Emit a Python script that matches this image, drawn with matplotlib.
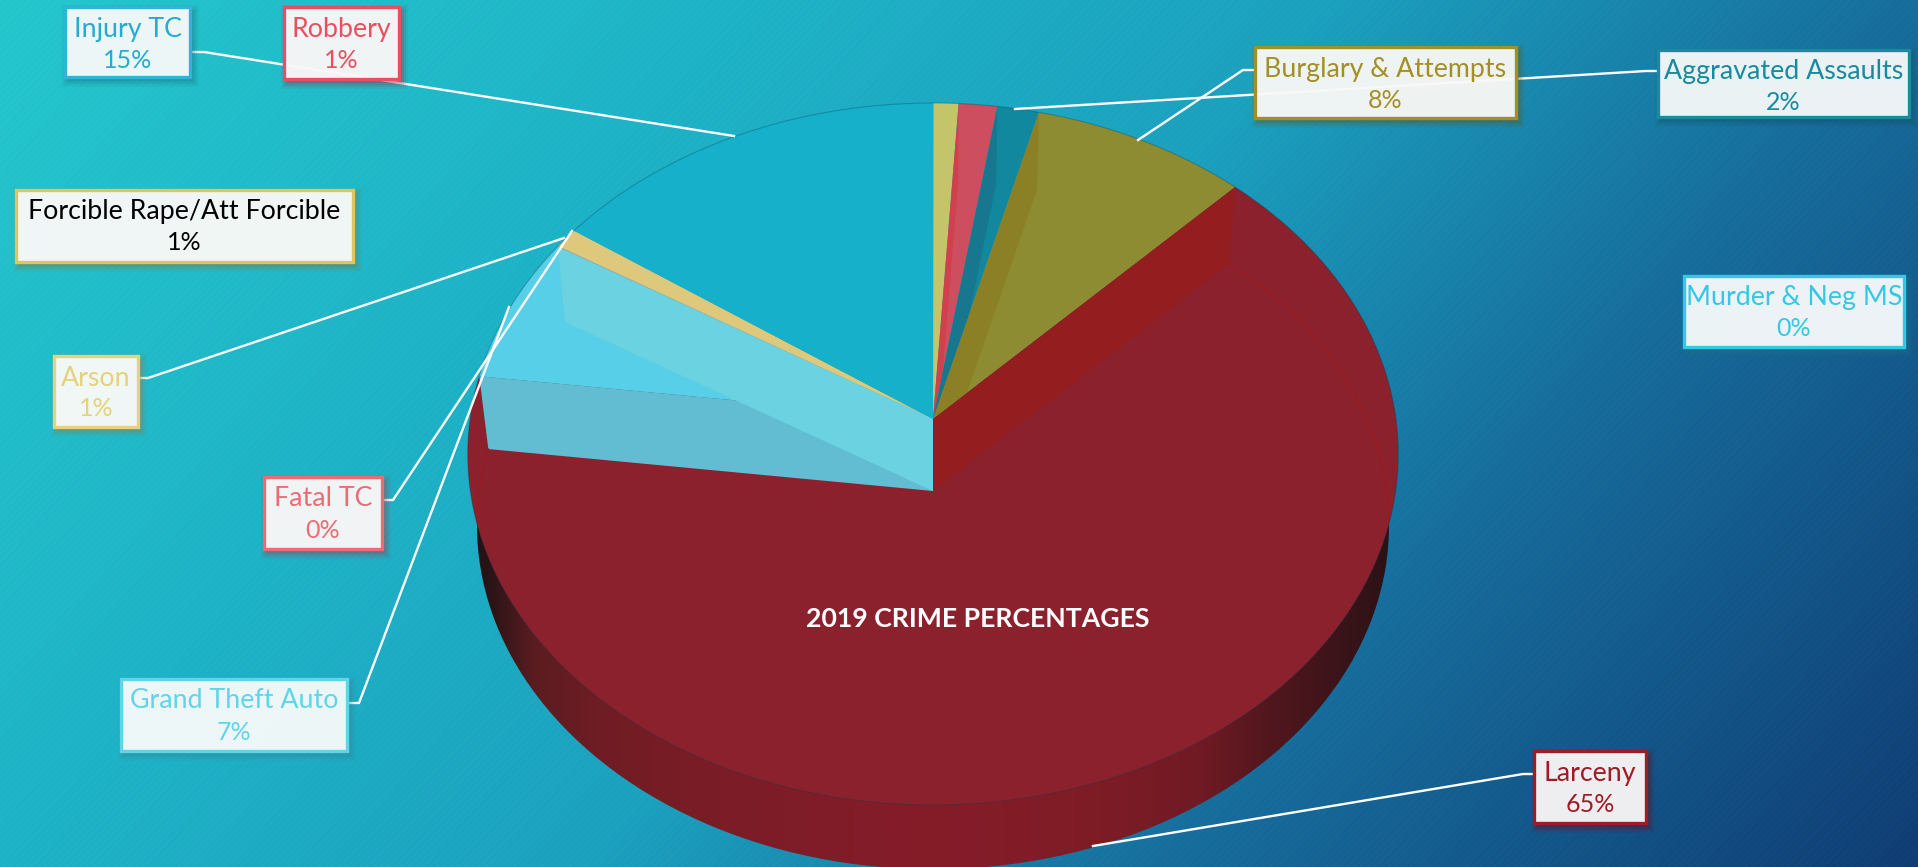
import numpy as np
import matplotlib
matplotlib.use('Agg')
import matplotlib.pyplot as plt
from matplotlib.colors import to_rgb
from matplotlib.patches import Rectangle, Polygon
from matplotlib.transforms import Transform

# Share of each crime (clockwise from 12 o'clock)
categories = ['Murder & Neg MS', 'Forcible Rape/Att Forcible', 'Robbery', 'Aggravated Assaults',
              'Burglary & Attempts', 'Larceny', 'Grand Theft Auto', 'Fatal TC', 'Arson', 'Injury TC']
shares = [0.03, 0.94, 1.47, 1.60, 8.28, 64.67, 6.75, 0.03, 0.94, 15.29]

face_colors = ['#33C8E0', '#C4C46A', '#CC4E5F', '#12889F', '#8E8C32',
               '#8B212C', '#58CFE8', '#EE6B75', '#DDC87C', '#17B0CA']
wall_colors = ['#33C8E0', '#C9BE5C', '#D0404E', '#17778F', '#8C8026',
               '#931D1F', '#62BCD2', '#EE6B75', '#D0D080', '#15A8C2']
text_colors = ['#35C8E6', '#000000', '#E94F5F', '#1A8A9E', '#A38F24',
               '#A01B25', '#60D5EA', '#EE6B75', '#E6D27C', '#23ABD0']
border_colors = ['#35C8E6', '#DEC65C', '#E94F5F', '#1A8A9E', '#A38F24',
                 '#A01B25', '#60D5EA', '#EE6B75', '#E6D27C', '#2FB5D8']

# label boxes in pixels: x0, y0, x1, y1
boxes = [(1684, 276, 1904, 347), (16, 190, 353, 262), (284, 7, 399, 79), (1658, 50, 1909, 117),
         (1255, 47, 1516, 118), (1534, 751, 1646, 823), (121, 679, 347, 751), (264, 477, 382, 549),
         (54, 356, 138, 427), (65, 7, 190, 77)]

# leader lines in pixels, None where the label has no line
leaders = [None, None, None,
           [(1656, 71), (1646, 71), (1015, 109)],
           [(1254, 70), (1243, 70), (1138, 140)],
           [(1534, 774), (1523, 774), (1093, 846)],
           [(347, 703), (359, 703), (509, 307)],
           [(382, 500), (393, 500), (572, 231)],
           [(138, 378), (148, 378), (564, 238)],
           [(191, 52), (204, 52), (734, 136)]]

W, H = 1918, 867


class DiscView(Transform):
    # unit disc seen from above, near side drawn larger
    input_dims = 2
    output_dims = 2

    def __init__(self, cy, scale):
        super().__init__()
        self.cy = cy
        self.scale = scale

    def transform_non_affine(self, values):
        values = np.asarray(values, dtype=float)
        w = 1 + 0.0997 * values[:, 1]
        x = 933 + self.scale * 463 * values[:, 0] / w
        y = self.cy - self.scale * 347.5 * values[:, 1] / w
        return np.column_stack([x, y])


top_view = DiscView(419, 1.0)
base_view = DiscView(491, 0.98)

fig = plt.figure(figsize=(W / 100, H / 100), dpi=100)
ax = fig.add_axes([0, 0, 1, 1])

# background gradient with faint diagonal stripes
yy, xx = np.mgrid[0:H, 0:W]
t = xx / W * 0.72 + yy / H * 0.28
stops = [0, 0.28, 0.5, 0.72, 1]
r = np.interp(t, stops, [36, 30, 27, 22, 15])
g = np.interp(t, stops, [198, 178, 160, 108, 60])
b = np.interp(t, stops, [204, 198, 190, 155, 115])
stripes = (((xx + yy) % 7) < 3) * 2.0
bg = np.clip(np.dstack([r + stripes, g + stripes, b + stripes]) / 255, 0, 1)
ax.imshow(bg, extent=(0, W, H, 0), zorder=0, aspect='auto')

# top faces and base faces come from the same shares
wedges, _ = ax.pie(shares, colors=face_colors, startangle=90, counterclock=False, radius=1,
                   wedgeprops=dict(linewidth=0))
for w in wedges:
    w.set_transform(top_view + ax.transData)
    w.set_zorder(2)

base_wedges, _ = ax.pie(shares, colors=['none'] * len(shares), startangle=90, counterclock=False,
                        radius=1, wedgeprops=dict(linewidth=0))
for w in base_wedges:
    w.set_transform(base_view + ax.transData)
    w.set_zorder(1)

ax.set_xlim(0, W)
ax.set_ylim(H, 0)
ax.set_aspect('auto')
ax.axis('off')

larceny = categories.index('Larceny')
gta = categories.index('Grand Theft Auto')

# outer wall of the big slice, dark at both ends
shade_x = [470, 490, 533, 600, 700, 930, 1100, 1200, 1263, 1340, 1400]
shade_r = [30, 42, 90, 112, 122, 133, 126, 112, 84, 58, 40]
shade_g = [18, 20, 28, 28, 28, 29, 28, 26, 23, 20, 18]
shade_b = [20, 22, 32, 36, 38, 41, 38, 36, 30, 25, 20]
xs = np.arange(W)
wall = np.dstack([np.interp(xs, shade_x, c)[None, :] for c in (shade_r, shade_g, shade_b)]) / 255
im = ax.imshow(wall, extent=(0, W, H, 0), zorder=1, aspect='auto')
im.set_clip_path(base_wedges[larceny])
ax.set_xlim(0, W)
ax.set_ylim(H, 0)

# cut faces of each slice, seen through the top
edges = 90 - np.cumsum([0] + shares) * 3.6
apex_top = top_view.transform(np.array([[0.0, 0.0]]))[0]
apex_base = base_view.transform(np.array([[0.0, 0.0]]))[0]


def cut_face(angle, color, zorder):
    p = np.array([[np.cos(np.radians(angle)), np.sin(np.radians(angle))]])
    corners = [apex_top, top_view.transform(p)[0], base_view.transform(p)[0], apex_base]
    poly = Polygon(corners, closed=True, facecolor=color, edgecolor='none', zorder=zorder)
    ax.add_patch(poly)
    return poly


for i, name in enumerate(categories):
    if shares[i] < 0.5:
        continue
    poly = cut_face(edges[i], wall_colors[i], 3)
    if i not in (larceny, gta):
        poly.set_clip_path(wedges[i])

# far cut face of the grand theft auto slice
cut_face(edges[gta + 1], '#6AD2E0', 3.2)

# thin rim lines
ang = np.radians(np.linspace(edges[larceny], edges[larceny + 1], 300))
unit = np.column_stack([np.cos(ang), np.sin(ang)])
rim = base_view.transform(unit)
inner, = ax.plot(rim[:, 0], rim[:, 1], color='#9A1A20', lw=1, zorder=3.3)
inner.set_clip_path(wedges[larceny])
ang = np.radians(np.linspace(0, 360, 500))
rim = top_view.transform(np.column_stack([np.cos(ang), np.sin(ang)]))
ax.plot(rim[:, 0], rim[:, 1], color='#0A3A50', lw=0.8, alpha=0.3, zorder=3.4)

ax.text(978, 619, '2019 CRIME PERCENTAGES', color='white', fontsize=19.2, fontweight='bold',
        family='Lato', ha='center', va='center', zorder=4)

# leaders and label boxes
for line in leaders:
    if line is not None:
        ax.plot(*zip(*line), color='white', lw=1.7, zorder=5, solid_joinstyle='round')

for i, name in enumerate(categories):
    x0, y0, x1, y1 = boxes[i]
    shadow = to_rgb(border_colors[i])
    shadow = tuple(c * 0.6 for c in shadow)
    for grow, a in zip((6, 4, 2, 0), (0.08, 0.12, 0.16, 0.2)):
        ax.add_patch(Rectangle((x0 + 3 - grow, y0 + 4 - grow), x1 - x0 + 2 * grow, y1 - y0 + 2 * grow,
                               facecolor=shadow, edgecolor='none', alpha=a, zorder=5.5))
    ax.add_patch(Rectangle((x0, y0), x1 - x0, y1 - y0, facecolor=(1, 1, 1, 0.92),
                           edgecolor=border_colors[i], lw=2.4, zorder=6))
    cx = (x0 + x1) / 2
    ax.text(cx, y0 + 22, name, color=text_colors[i], fontsize=19.3, family='Lato',
            ha='center', va='center', zorder=7)
    ax.text(cx, y0 + 53, f'{shares[i]:.0f}%', color=text_colors[i], fontsize=18, family='Lato',
            ha='center', va='center', zorder=7)

fig.savefig('out.png', dpi=100)
